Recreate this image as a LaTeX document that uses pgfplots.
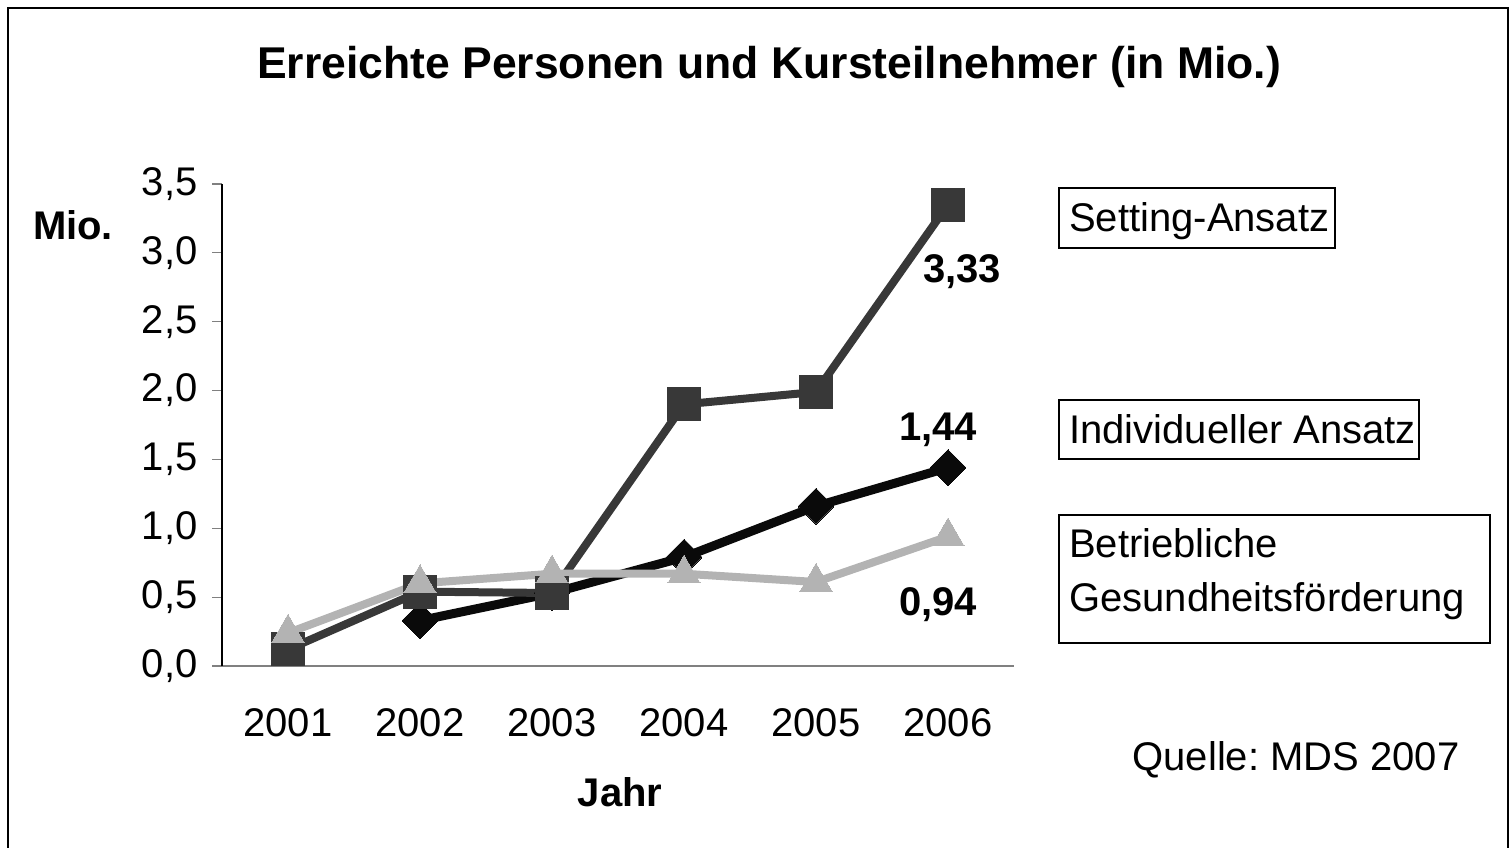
\documentclass[border=0pt]{standalone}
\usepackage{pgfplots}
\pgfplotsset{compat=1.18}
\usepackage{fontspec}
\setmainfont{Liberation Sans}
\frenchspacing
\definecolor{cset}{HTML}{383838}
\definecolor{cind}{HTML}{0A0A0A}
\definecolor{cbgf}{HTML}{B3B3B3}
\newcommand{\bigf}{\fontsize{40}{54}\selectfont}
\begin{document}
\begin{tikzpicture}[x=1pt,y=1pt]
\path[use as bounding box] (0,0) rectangle (1511,847);
\draw[line width=1.5pt] (8,-2) -- (8,839) -- (1508,839) -- (1508,-2);
\node[font=\fontsize{44.5}{54}\selectfont\bfseries] at (769,780) {Erreichte Personen und Kursteilnehmer (in Mio.)};
\begin{axis}[at={(222pt,181pt)}, anchor=south west, scale only axis,
  width=792pt, height=482pt,
  xmin=0.5, xmax=6.5, ymin=0, ymax=3.5,
  axis x line*=bottom, axis y line*=left,
  x axis line style={draw=gray, line width=1.5pt},
  y axis line style={draw=black, line width=1.2pt},
  xtick={1,2,3,4,5,6},
  xticklabels={2001,2002,2003,2004,2005,2006},
  xtick style={draw=none},
  ytick={0,0.5,1,1.5,2,2.5,3,3.5},
  ytick style={draw=gray, line width=1.2pt},
  tick align=outside, major tick length=10pt,
  yticklabel={\pgfmathprintnumber[fixed,fixed zerofill,precision=1,use comma]{\tick}},
  /pgf/number format/assume math mode=true,
  tick label style={font=\bigf},
  xticklabel style={yshift=-29pt},
  yticklabel style={xshift=-11pt},
  clip=false,
]
\addplot[color=cind, line width=9pt, mark=square*, mark size=12.7pt, mark options={rotate=45, line width=0pt}]
 coordinates {(2,0.33) (3,0.53) (4,0.79) (5,1.16) (6,1.44)};
\addplot[color=cset, line width=8pt, mark=square*, mark size=16.5pt, mark options={line width=0pt}]
 coordinates {(1,0.12) (2,0.54) (3,0.53) (4,1.90) (5,1.99) (6,3.35)};
\addplot[color=cbgf, line width=8pt, mark=triangle*, mark size=18.5pt, mark options={line width=0pt}]
 coordinates {(1,0.24) (2,0.60) (3,0.67) (4,0.67) (5,0.61) (6,0.94)};
\end{axis}
\node[font=\bigf\bfseries] at (620,55) {Jahr};
\node[font=\bigf\bfseries] at (73,622) {Mio.};
\node[font=\bigf\bfseries] at (962,575) {3,33};
\node[font=\bigf\bfseries] at (938,417) {1,44};
\node[font=\bigf\bfseries] at (938,242) {0,94};
\draw[line width=2pt] (1059,659) rectangle (1335,599);
\node[font=\bigf, anchor=base west, inner sep=0pt] at (1069,615) {Setting-Ansatz};
\draw[line width=2pt] (1059,447) rectangle (1419,388);
\node[font=\bigf, anchor=base west, inner sep=0pt] at (1069,404) {Individueller Ansatz};
\draw[line width=2pt] (1059,332) rectangle (1490,204);
\node[font=\bigf, anchor=base west, inner sep=0pt] at (1069,290) {Betriebliche};
\node[font=\bigf, anchor=base west, inner sep=0pt] at (1069,236) {Gesundheitsförderung};
\node[font=\bigf] at (1296,87) {Quelle: MDS 2007};
\end{tikzpicture}
\end{document}
